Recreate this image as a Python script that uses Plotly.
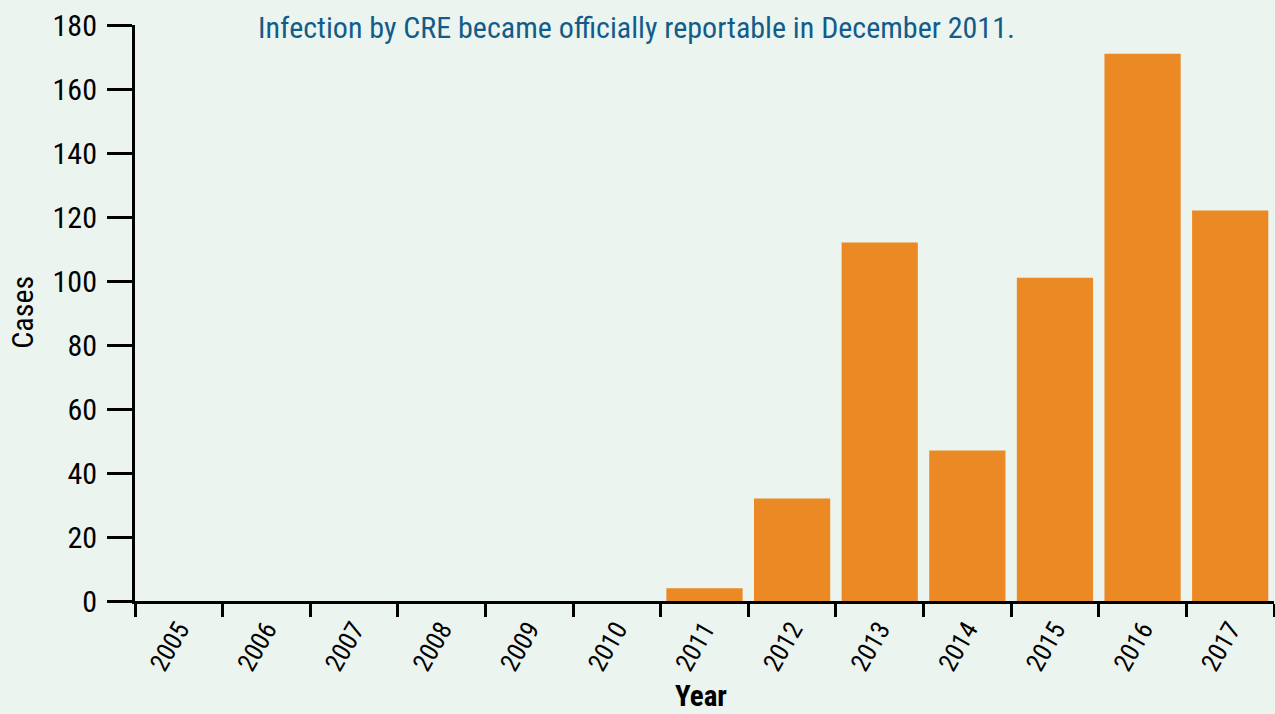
import plotly.graph_objects as go

years = ["2005", "2006", "2007", "2008", "2009", "2010", "2011",
         "2012", "2013", "2014", "2015", "2016", "2017"]
cases = [0, 0, 0, 0, 0, 0, 4, 32, 112, 47, 101, 171, 122]
y_ticks = [0, 20, 40, 60, 80, 100, 120, 140, 160, 180]

FONT = "Liberation Sans Narrow, Arial Narrow, Roboto Condensed, Liberation Sans, sans-serif"
BG = "#EBF4EF"

fig = go.Figure(go.Bar(
    x=years, y=cases,
    marker=dict(color="#EB8A25", line=dict(width=0)),
))

fig.update_layout(
    width=1275, height=714,
    margin=dict(l=135, r=1, t=25, b=113),
    paper_bgcolor=BG, plot_bgcolor=BG,
    bargap=0.13,
    showlegend=False,
    font=dict(family=FONT, color="black"),
    xaxis=dict(
        type="category",
        tickson="boundaries",
        ticks="outside", ticklen=13, tickwidth=3, tickcolor="black",
        showline=True, linewidth=3, linecolor="black",
        showgrid=False,
        tickangle=-60,
        tickfont=dict(size=26, family=FONT),
    ),
    yaxis=dict(
        range=[0, 180],
        tickvals=y_ticks,
        ticks="outside", ticklen=25, tickwidth=3, tickcolor="black",
        showline=True, linewidth=3, linecolor="black",
        showgrid=False, zeroline=False,
        tickfont=dict(size=30, family=FONT),
        ticklabelstandoff=4,
    ),
    annotations=[
        dict(text="Infection by CRE became officially reportable in December 2011.",
             xref="paper", yref="paper", x=0.44, y=0.995,
             xanchor="center", yanchor="middle", showarrow=False,
             font=dict(size=30, color="#135C8A", family=FONT)),
        dict(text="Cases", xref="paper", yref="paper", x=-0.0985, y=0.502,
             xanchor="center", yanchor="middle", textangle=-90, showarrow=False,
             font=dict(size=30, color="black", family=FONT)),
        dict(text="<b>Year</b>", xref="paper", yref="paper", x=0.497, y=-0.165,
             xanchor="center", yanchor="middle", showarrow=False,
             font=dict(size=29, color="black", family=FONT)),
    ],
)

fig.write_html("out.html")
